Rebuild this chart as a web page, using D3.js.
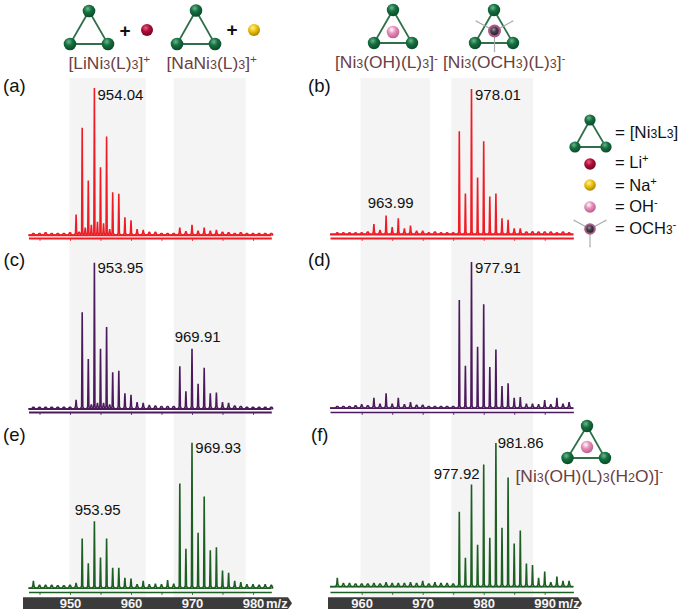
<!DOCTYPE html>
<html><head><meta charset="utf-8">
<script src="https://cdn.jsdelivr.net/npm/d3@7"></script>
<style>html,body{margin:0;background:#fff}svg{display:block}text{font-family:"Liberation Sans",Arial,sans-serif}</style>
</head><body><svg id="c" width="685" height="615"></svg>
<script>
// ---- data: m/z of each peak and its relative intensity (%) ----
const aMz=[944,945,946,947,948,949,950,951,951.5,952,952.5,953,953.5,954,954.5,955,955.5,956,956.5,957,958,959,960,961,962,963,964,965,966,967,968,969,970,971,972,973,974,975,976,977,978,979,980,981,982,983];
const aInt=[1,1,1.5,1,1,1,1.5,14,2,73,5,37,7,100,9,46,8,67,4,29,28,12,10,4,3.5,2,2,1,1,1,5,2.5,7,3,5,3,3.5,2,1.5,1,1.5,1,1,1,1,1];
const bMz=[956,957,958,959,960,961,962,963,964,965,966,967,968,969,970,971,972,973,974,975,976,977,978,979,980,981,982,983,984,985,986,987,988,989,990,991,992,993,994];
const bInt=[1,1,1,1,1,1.5,7,3,13,5,11,4,6,2.5,2.5,1,1.5,1,1,1,71,28,100,39,64,26,28,11,10,4,4,1.5,2,1.5,1.5,1.5,1,1.5,1];
const cMz=[944,945,946,947,948,949,950,951,952,953,953.5,954,954.5,955,955.5,956,956.5,957,958,959,960,961,962,963,964,965,966,967,968,969,970,971,972,973,974,975,976,977,978,979,980,981,982,983];
const cInt=[1,1,1,1,1,1,1,6,66,34,3,100,4,41,4,56,3,25,26,10.5,9.5,4.5,4,2.5,2,1.5,1.5,1.5,29,12,41,17,28,10.5,11,4.5,4,2,1.5,1,1,1,1,1];
const dMz=[956,957,958,959,960,961,962,963,964,965,966,967,968,969,970,971,972,973,974,975,976,977,978,979,980,981,982,983,984,985,986,987,988,989,990,991,992,993,994];
const dInt=[1,1,1,1.5,2.5,1.5,7,3,10,3,7,2.5,4,2,2,1,1,1,1,1,74,29,100,42,71,28,40,15,17,7,7.5,3,3,2.5,5.5,2.5,7,3,4];
const eMz=[944,945,946,947,948,949,950,951,952,953,954,955,956,957,958,959,960,961,962,963,964,965,966,967,968,969,970,971,972,973,974,975,976,977,978,979,980,981,982,983];
const eInt=[5,2,2,2,1.5,1.5,2,3.5,34,17,46,21,34,14,14,7,6.5,2.5,5,2.5,3,2.5,5.5,3,72,27,100,38,63,26,28,12,10.5,5,4,2.5,2.5,2,2.5,2];
const fMz=[956,957,958,959,960,961,962,963,964,965,966,967,968,969,970,971,972,973,974,975,976,977,978,979,980,981,982,983,984,985,986,987,988,989,990,991,992,993,994];
const fInt=[6,2.5,2.5,2,2,2,2.5,2,3,2.5,2.5,2.5,3,2.5,4,2,3,2.5,2.5,2,52,20,71,29,85,34,100,41,76,30,39,16,15,6,10.5,3,7,4,4];
const leftTicks=[945,950,955,960,965,970,975,980];
const rightTicks=[960,965,970,975,980,985,990];
const leftLabels=[950,960,970,980];
const rightLabels=[960,970,980,990];

const svg=d3.select("#c");
const defs=svg.append("defs");
function grad(id,hi,mid,lo){const g=defs.append("radialGradient").attr("id",id).attr("cx","40%").attr("cy","32%").attr("r","68%");
 g.append("stop").attr("offset","0").attr("stop-color",hi);g.append("stop").attr("offset","0.45").attr("stop-color",mid);g.append("stop").attr("offset","1").attr("stop-color",lo);}
grad("gNi","#6fb58e","#14703f","#0b4a2a");grad("gLi","#e0607f","#b30d3c","#6e0620");grad("gNa","#fff09a","#eec50c","#a98404");
grad("gOH","#ffffff","#e88fbc","#b8608e");grad("gMe","#9a9a9a","#47404a","#2a252b");

// x scales
const xL=d3.scaleLinear().domain([950,980]).range([70,253]);
const xR=d3.scaleLinear().domain([960,990]).range([361.7,544.7]);

// shaded bands
const bands=[[xL,949.9,962.4],[xL,967,978.8],[xR,959.8,971.2],[xR,974.7,988.1]];
svg.selectAll("rect.band").data(bands).join("rect").attr("class","band")
 .attr("x",d=>d[0](d[1])).attr("width",d=>d[0](d[2])-d[0](d[1])).attr("y",78).attr("height",519).attr("fill","#f4f4f4");

const panels=[
 {x:xL,dom:[943.2,983],mz:aMz,v:aInt,color:"#ee1c25",base:235,top:88,axisY:238,ticks:leftTicks,lw:2},
 {x:xR,dom:[954.8,994.7],mz:bMz,v:bInt,color:"#ee1c25",base:234.3,top:89,axisY:238,ticks:rightTicks,lw:2},
 {x:xL,dom:[943.2,983],mz:cMz,v:cInt,color:"#4b1a5c",base:408.7,top:262.7,axisY:412,ticks:leftTicks,lw:2},
 {x:xR,dom:[954.8,994.7],mz:dMz,v:dInt,color:"#4b1a5c",base:408,top:262,axisY:412,ticks:rightTicks,lw:1.6},
 {x:xL,dom:[943.2,983],mz:eMz,v:eInt,color:"#1d5e22",base:588,top:442.7,axisY:592,ticks:leftTicks,lw:1.6},
 {x:xR,dom:[954.8,994.7],mz:fMz,v:fInt,color:"#1d5e22",base:586.5,top:443,axisY:592,ticks:rightTicks,lw:1.6}
];
panels.forEach(p=>{
 const y=d3.scaleLinear().domain([0,100]).range([p.base,p.top]);
 const line=d3.line().x(d=>p.x(d[0])).y(d=>y(d[1]));
 const pts=[[p.dom[0],0]];
 p.mz.forEach((m,i)=>{const h=p.v[i];pts.push([m-0.26,0],[m-0.09,Math.min(h,1.5)],[m,h],[m+0.09,Math.min(h,1.5)],[m+0.26,0]);});
 pts.push([p.dom[1],0]);
 svg.append("path").attr("d",line(pts)).attr("fill","none").attr("stroke",p.color).attr("stroke-width",1.6).attr("stroke-linejoin","bevel");
 svg.append("line").attr("x1",p.x(p.dom[0])).attr("x2",p.x(p.dom[1])).attr("y1",p.base+0.3).attr("y2",p.base+0.3).attr("stroke",p.color).attr("stroke-width",p.lw);
 const ax=d3.axisBottom(d3.scaleLinear().domain(p.dom).range(p.dom.map(p.x))).tickValues(p.ticks).tickFormat("").tickSize(3).tickSizeOuter(0);
 const g=svg.append("g").attr("transform",`translate(0,${p.axisY})`).call(ax);
 g.select(".domain").attr("stroke",p.color).attr("stroke-width",p.lw);
 g.selectAll("line").attr("stroke",p.color).attr("stroke-width",0.8);
});

// dark axis bars
function bar(x0,x1,scale,labels,mzX){
 svg.append("path").attr("d",`M${x0},597.3H${x1}L${x1+4},603.2L${x1},609H${x0}Z`).attr("fill","#3b3b3b");
 const g=svg.append("g").attr("transform","translate(0,597)").call(d3.axisBottom(scale).tickValues(labels).tickFormat(d3.format("d")).tickSize(0).tickPadding(0));
 g.select(".domain").remove();
 g.selectAll("text").attr("fill","#f4f4f4").attr("font-size",13).attr("font-weight","bold").attr("y",0).attr("dy",11).attr("font-family",'"Liberation Sans",Arial,sans-serif');
 svg.append("text").attr("x",mzX).attr("y",607.8).attr("fill","#f4f4f4").attr("font-size",13).attr("font-weight","bold").text("m/z");
}
bar(23,288,xL,leftLabels,266);
bar(328,578,xR,rightLabels,558);

// peak labels
const peakLabels=[["954.04",97.5,99.5],["978.01",475,99.5],["963.99",367.7,208],["953.95",97.5,273.3],["969.91",174.7,341.7],["977.91",475,273.3],["953.95",74.7,515.3],["969.93",195.3,453],["977.92",433.7,479],["981.86",497.7,448]];
svg.selectAll("text.pk").data(peakLabels).join("text").attr("class","pk").attr("x",d=>d[1]).attr("y",d=>d[2]).attr("font-size",15).attr("fill","#111").text(d=>d[0]);
const panelLabels=[["(a)",3,92],["(b)",308,92],["(c)",3.5,265.7],["(d)",308,265.7],["(e)",3,441],["(f)",311,441]];
svg.selectAll("text.pl").data(panelLabels).join("text").attr("class","pl").attr("x",d=>d[1]).attr("y",d=>d[2]).attr("font-size",18.5).attr("fill","#111").text(d=>d[0]);

// rich formula text: s=small, u=superscript (superscripts always come last)
function rich(x,y,parts,fill,size){
 const t=svg.append("text").attr("x",x).attr("y",y).attr("fill",fill).attr("font-size",size);
 parts.forEach(p=>{const s=t.append("tspan").text(p[0]);
  if(p[1]==="s")s.attr("font-size",size*0.72);
  if(p[1]==="u")s.attr("font-size",size*0.68).attr("dy",-size*0.36);
 });
}
const brown="#6b4043";
rich(68.5,69,[["[LiNi"],["3","s"],["(L)"],["3","s"],["]"],["+","u"]],brown,17.4);
rich(166.5,69,[["[NaNi"],["3","s"],["(L)"],["3","s"],["]"],["+","u"]],brown,17.4);
rich(335,68,[["[Ni"],["3","s"],["(OH)(L)"],["3","s"],["]"],["-","u"]],brown,17.4);
rich(443,68,[["[Ni"],["3","s"],["(OCH"],["3","s"],[")(L)"],["3","s"],["]"],["-","u"]],brown,17.4);
rich(515.5,481.5,[["[Ni"],["3","s"],["(OH)(L)"],["3","s"],["(H"],["2","s"],["O)]"],["-","u"]],brown,17.4);
rich(615,138,[["= [Ni"],["3","s"],["L"],["3","s"],["]"]],"#111",17);
rich(615,168,[["= Li"],["+","u"]],"#111",16.5);
rich(615,190.5,[["= Na"],["+","u"]],"#111",16.5);
rich(615,212,[["= OH"],["-","u"]],"#111",16.5);
rich(615,234,[["= OCH"],["3","s"],["-","u"]],"#111",16.5);

// plus signs
[[125,36.5],[232,36]].forEach(d=>svg.append("text").attr("x",d[0]).attr("y",d[1]).attr("text-anchor","middle").attr("font-size",19).attr("font-weight","bold").attr("fill","#111").text("+"));

// molecule icons
function ball(x,y,r,g){svg.append("circle").attr("cx",x).attr("cy",y).attr("r",r).attr("fill",`url(#${g})`);}
function tri(tx,ty,lx,rx,by,r){
 svg.append("path").attr("d",`M${tx},${ty}L${lx},${by}L${rx},${by}Z`).attr("fill","none").attr("stroke","#2f6f4a").attr("stroke-width",1.8);
 ball(tx,ty,r,"gNi");ball(lx,by,r,"gNi");ball(rx,by,r,"gNi");
}
function methoxy(x,y,r,sp){
 [[-sp*1.2,-sp*0.65],[sp*1.2,-sp*0.65],[0,sp*1.35]].forEach(d=>{
  svg.append("line").attr("x1",x).attr("y1",y).attr("x2",x+d[0]).attr("y2",y+d[1]).attr("stroke","#a8a8a8").attr("stroke-width",1.1);
  svg.append("circle").attr("cx",x+d[0]).attr("cy",y+d[1]).attr("r",1).attr("fill","#bdbdbd");
 });
 svg.append("circle").attr("cx",x).attr("cy",y).attr("r",r).attr("fill","#a85c8c");
 ball(x,y,r*0.65,"gMe");
}
tri(89,11,70,108,44,6.3);ball(147,30,6,"gLi");
tri(196,10.5,177,215,44,6.3);ball(254,30,6,"gNa");
tri(393,10,374,412,43,6.2);ball(393,32,6.3,"gOH");
tri(494,10,475,513,43,6.2);methoxy(494.5,31,6.5,15);
tri(590,120,575,606,147,5.6);
ball(590,164,5.8,"gLi");ball(590,185,5.8,"gNa");ball(590,207,5.8,"gOH");methoxy(590,229,5.8,13);
tri(587,426,567.5,605,458,6.2);ball(587,447,6.2,"gOH");
</script></body></html>
